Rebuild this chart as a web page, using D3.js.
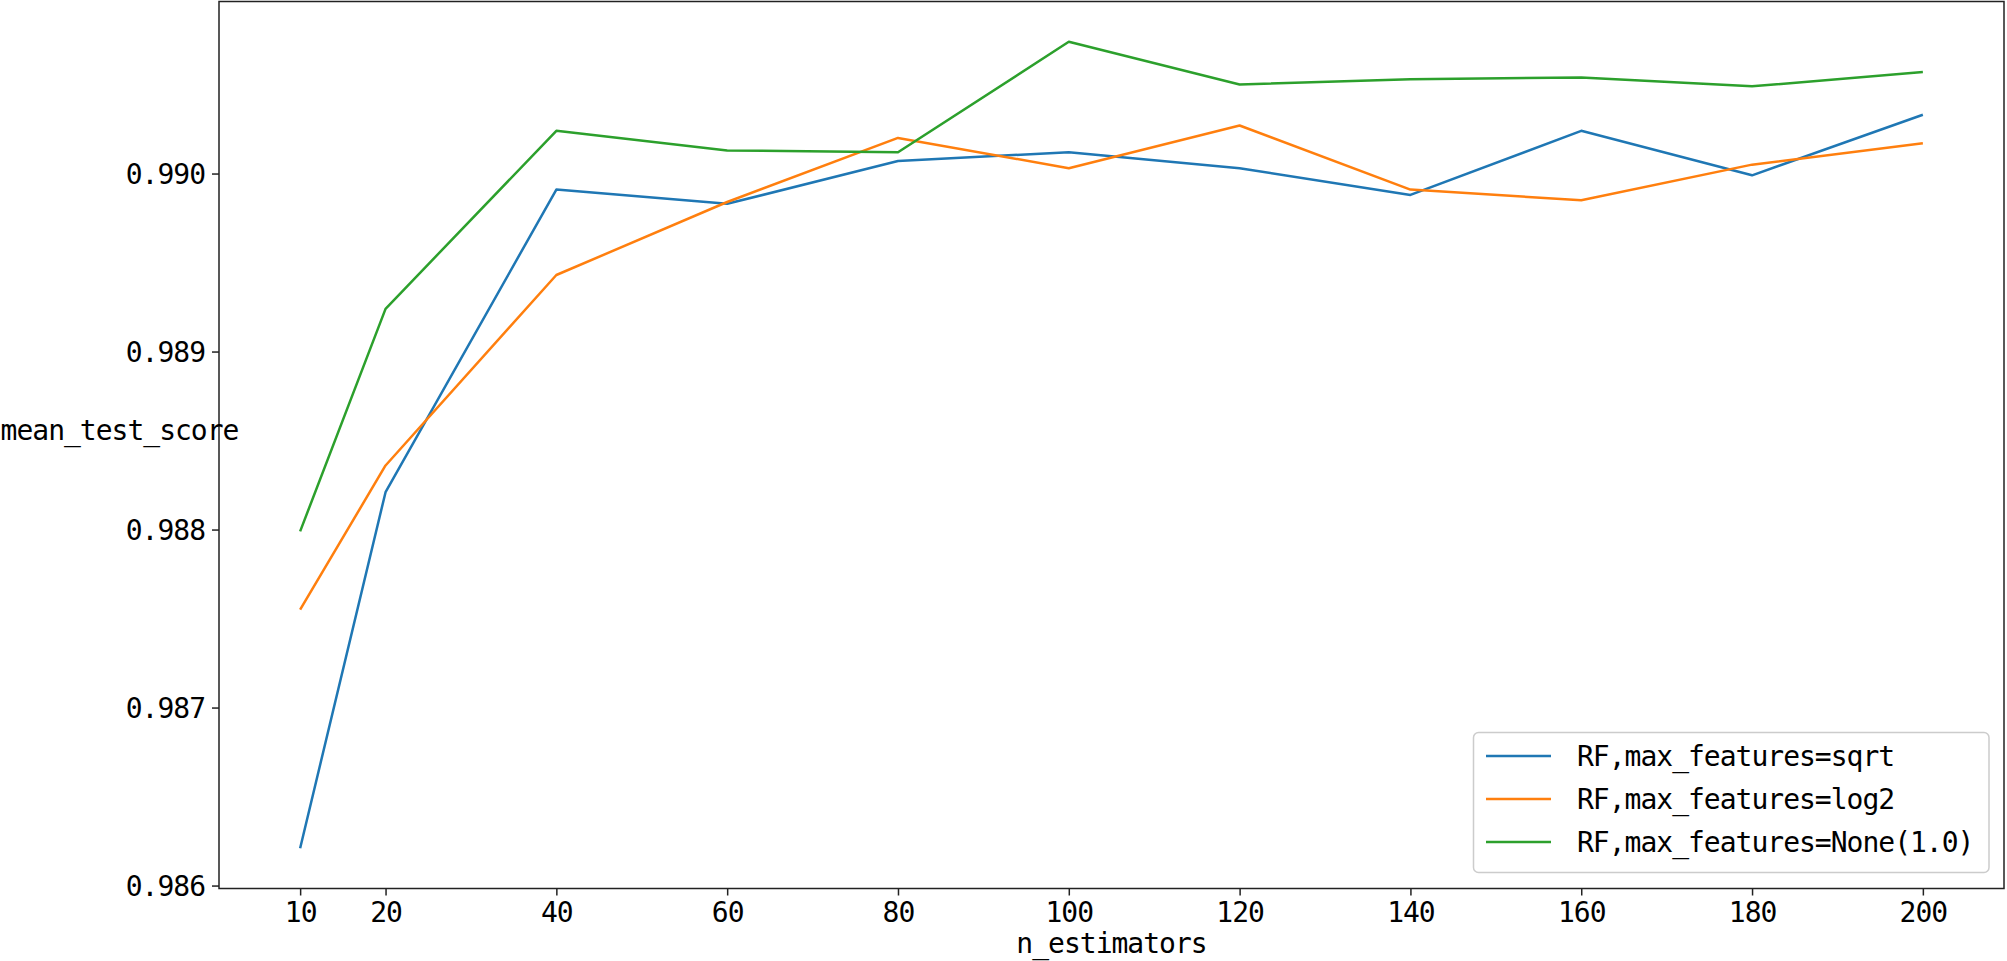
<!DOCTYPE html>
<html>
<head>
<meta charset="utf-8">
<script src="https://cdn.jsdelivr.net/npm/d3@7"></script>
<style>
  body { margin: 0; background: #fff; }
  text { font-family: "DejaVu Sans Mono", "Liberation Mono", monospace; letter-spacing: -1px; }
</style>
</head>
<body>
<script>
var nEstimators = [10, 20, 40, 60, 80, 100, 120, 140, 160, 180, 200];
var sqrtScores = [0.98621, 0.98821, 0.98991, 0.98983, 0.99007, 0.99012, 0.99003, 0.98988, 0.99024, 0.98999, 0.99033];
var log2Scores = [0.98755, 0.98836, 0.98943, 0.98984, 0.99020, 0.99003, 0.99027, 0.98991, 0.98985, 0.99005, 0.99017];
var noneScores = [0.98799, 0.98924, 0.99024, 0.99013, 0.99012, 0.99074, 0.99050, 0.99053, 0.99054, 0.99049, 0.99057];
var seriesNames = ['RF,max_features=sqrt', 'RF,max_features=log2', 'RF,max_features=None(1.0)'];
var seriesColors = ['#1f77b4', '#ff7f0e', '#2ca02c'];
var yTicks = [0.986, 0.987, 0.988, 0.989, 0.990];

var w = 2007;
var h = 961;
var plotL = 219, plotR = 2004, plotT = 1.5, plotB = 888.5;
var fontSize = 28;

var series = [sqrtScores, log2Scores, noneScores].map(function (vals, i) {
  return {
    name: seriesNames[i],
    color: seriesColors[i],
    values: vals.map(function (v, j) { return { x: nEstimators[j], y: v }; })
  };
});

// matplotlib style 5% margins
function padded(ext) {
  var m = (ext[1] - ext[0]) * 0.05;
  return [ext[0] - m, ext[1] + m];
}
var allY = [].concat(sqrtScores, log2Scores, noneScores);

var xScale = d3.scaleLinear()
  .domain(padded(d3.extent(nEstimators)))
  .range([plotL, plotR]);
var yScale = d3.scaleLinear()
  .domain(padded(d3.extent(allY)))
  .range([plotB, plotT]);

var svg = d3.select('body')
  .append('svg')
  .attr('width', w)
  .attr('height', h);

svg.append('rect').attr('width', w).attr('height', h).attr('fill', '#fff');

var xAxis = d3.axisBottom(xScale)
  .tickValues(nEstimators)
  .tickSize(7)
  .tickPadding(7)
  .tickSizeOuter(0);
var yAxis = d3.axisLeft(yScale)
  .tickValues(yTicks)
  .tickFormat(d3.format('.3f'))
  .tickSize(7)
  .tickPadding(7)
  .tickSizeOuter(0);

var gx = svg.append('g')
  .attr('class', 'x_axis')
  .attr('transform', 'translate(0,' + plotB + ')')
  .call(xAxis);
gx.select('.domain').remove();
gx.selectAll('line').attr('stroke', '#222').attr('stroke-width', 1.5);
gx.selectAll('text')
  .attr('fill', '#000')
  .attr('font-size', fontSize)
  .attr('y', 33.5)
  .attr('dy', null);

var gy = svg.append('g')
  .attr('class', 'y_axis')
  .attr('transform', 'translate(' + plotL + ',0)')
  .call(yAxis);
gy.select('.domain').remove();
gy.selectAll('line').attr('stroke', '#222').attr('stroke-width', 1.5);
gy.selectAll('text')
  .attr('fill', '#000')
  .attr('font-size', fontSize)
  .attr('dy', '0.36em');

var line = d3.line()
  .x(d => xScale(d.x))
  .y(d => yScale(d.y));

svg.selectAll('path.series')
  .data(series)
  .enter()
  .append('path')
  .attr('class', 'series')
  .attr('d', d => line(d.values))
  .attr('fill', 'none')
  .attr('stroke', d => d.color)
  .attr('stroke-width', 2.5)
  .attr('stroke-linejoin', 'round');

// frame
svg.append('rect')
  .attr('x', plotL)
  .attr('y', plotT)
  .attr('width', plotR - plotL)
  .attr('height', plotB - plotT)
  .attr('fill', 'none')
  .attr('stroke', '#222')
  .attr('stroke-width', 1.5);

// axis labels
svg.append('text')
  .attr('x', (plotL + plotR) / 2)
  .attr('y', 953)
  .attr('text-anchor', 'middle')
  .attr('font-size', fontSize)
  .attr('fill', '#000')
  .text('n_estimators');

svg.append('text')
  .attr('x', 119.5)
  .attr('y', 440)
  .attr('text-anchor', 'middle')
  .attr('font-size', fontSize)
  .attr('fill', '#000')
  .text('mean_test_score');

// legend
var legend = svg.append('g').attr('class', 'legend');
legend.append('rect')
  .attr('x', 1473.5)
  .attr('y', 732.5)
  .attr('width', 1989 - 1473.5)
  .attr('height', 872.5 - 732.5)
  .attr('rx', 5)
  .attr('fill', '#fff')
  .attr('fill-opacity', 0.8)
  .attr('stroke', '#cccccc')
  .attr('stroke-width', 1.5);

var rows = legend.selectAll('g.row')
  .data(series)
  .enter()
  .append('g')
  .attr('class', 'row')
  .attr('transform', (d, i) => 'translate(0,' + (756 + i * 43) + ')');

rows.append('line')
  .attr('x1', 1486)
  .attr('x2', 1551)
  .attr('stroke', d => d.color)
  .attr('stroke-width', 2.5);

rows.append('text')
  .attr('x', 1577)
  .attr('y', 10)
  .attr('font-size', fontSize)
  .attr('fill', '#000')
  .text(d => d.name);
</script>
</body>
</html>
